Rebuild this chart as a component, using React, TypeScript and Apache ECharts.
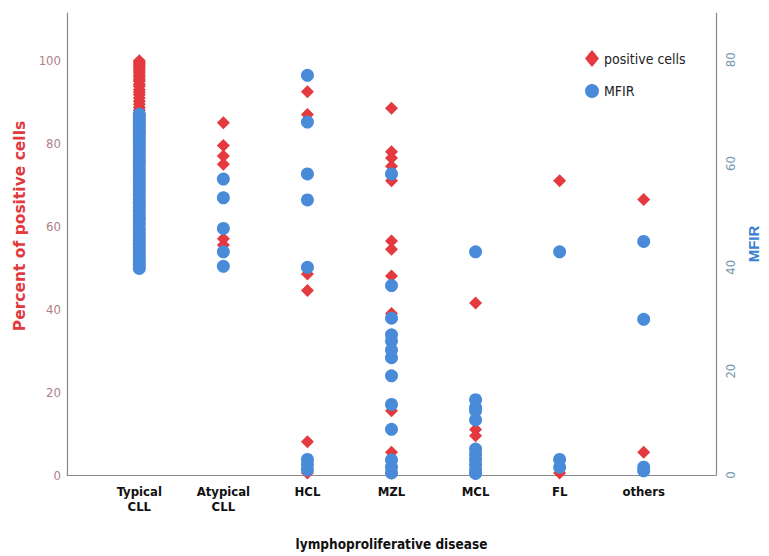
import React, { useEffect, useRef } from "react";
import * as echarts from "echarts";

const categories = ["Typical\nCLL", "Atypical\nCLL", "HCL", "MZL", "MCL", "FL", "others"];

// Percent of positive cells (left axis), one list per category
const posTypicalCLL = [100, 99.6, 99.2, 98.8, 98.4, 98, 97.5, 97, 96.5, 96, 95.4, 95, 94.3, 93.8, 93, 92.4, 91.8, 91, 90.2, 89.5, 88.7, 88, 87, 86, 85, 84, 82.5, 81, 79, 77, 75, 72, 70, 66, 62];
const posAtypicalCLL = [85, 79.5, 77, 75, 57, 55.5];
const posHCL = [92.5, 87, 48.5, 44.5, 8, 0.5];
const posMZL = [88.5, 78, 76.5, 74.5, 71, 56.5, 54.5, 48, 39, 15.5, 5.5, 0.5];
const posMCL = [41.5, 11, 9.5, 0.5];
const posFL = [71, 0.5];
const posOthers = [66.5, 5.5];

// MFIR (right axis), one list per category
const mfirTypicalCLL = [69.5, 69, 68.4, 67.8, 67.2, 66.5, 66, 65.3, 64.7, 64, 63.3, 62.6, 62, 61.3, 60.6, 60, 59.2, 58.5, 57.8, 57, 56.3, 55.5, 54.8, 54, 53.2, 52.4, 51.6, 50.8, 50, 49.2, 48.4, 47.5, 46.7, 46, 45.2, 44.5, 43.8, 43, 42.3, 41.6, 41, 40.4, 39.8];
const mfirAtypicalCLL = [57, 53.4, 47.5, 43, 40.2];
const mfirHCL = [77, 68, 58, 53, 40, 3, 2, 1];
const mfirMZL = [58, 36.5, 30.2, 27, 25.8, 24.1, 22.6, 19.1, 13.6, 8.8, 2.9, 1.5, 0.4];
const mfirMCL = [43, 14.5, 13, 12.4, 10.6, 5, 4, 3, 2, 1, 0.3];
const mfirFL = [43, 3, 1.5];
const mfirOthers = [45, 30, 1.5, 0.8];

const positiveCells = [posTypicalCLL, posAtypicalCLL, posHCL, posMZL, posMCL, posFL, posOthers];
const mfir = [mfirTypicalCLL, mfirAtypicalCLL, mfirHCL, mfirMZL, mfirMCL, mfirFL, mfirOthers];

const leftTicks = [0, 20, 40, 60, 80, 100];
const rightTicks = [0, 20, 40, 60, 80];

const RED = "#e3393f";
const BLUE = "#4a8bd9";
const NARROW = "'Liberation Sans Narrow', 'DejaVu Sans Condensed', 'Arial Narrow', sans-serif";

function toPoints(groups: number[][]) {
  const out: number[][] = [];
  groups.forEach((vals, i) => vals.forEach((v) => out.push([i, v])));
  return out;
}

export default function App() {
  const ref = useRef<HTMLDivElement>(null);
  useEffect(() => {
    document.body.style.margin = "0";
    if (!ref.current) return;
    const chart = echarts.init(ref.current, null, { renderer: "svg" });
    chart.setOption({
      animation: false,
      backgroundColor: "#ffffff",
      grid: { left: 67, right: 45, top: 13, bottom: 77, containLabel: false },
      legend: {
        orient: "vertical",
        left: 580,
        top: 45,
        itemWidth: 14,
        itemHeight: 17,
        itemGap: 17,
        textStyle: { fontFamily: NARROW, fontSize: 14, color: "#222" },
        data: [
          { name: "positive cells", icon: "diamond" },
          { name: "MFIR", icon: "circle" },
        ],
      },
      xAxis: {
        type: "value",
        min: -0.86,
        max: 6.86,
        axisLine: { show: true, onZero: false, lineStyle: { color: "#8a8a8a", width: 1.2 } },
        axisTick: { show: false },
        splitLine: { show: false },
        axisLabel: {
          customValues: [0, 1, 2, 3, 4, 5, 6],
          formatter: (v: number) => categories[Math.round(v)] ?? "",
          fontFamily: NARROW,
          fontWeight: "bold",
          fontSize: 13,
          lineHeight: 15,
          color: "#111",
          margin: 9,
        },
        name: "lymphoproliferative disease",
        nameLocation: "middle",
        nameGap: 62,
        nameTextStyle: { fontFamily: NARROW, fontWeight: "bold", fontSize: 13.5, color: "#111" },
      },
      yAxis: [
        {
          type: "value",
          min: 0,
          max: 111.5,
          interval: 20,
          axisLine: { show: true, onZero: false, lineStyle: { color: "#8a8a8a", width: 1.2 } },
          axisTick: { show: false },
          splitLine: { show: false },
          axisLabel: {
            customValues: leftTicks,
            fontFamily: NARROW,
            fontSize: 13,
            color: "#b07f86",
            margin: 6,
          },
          name: "Percent of positive cells",
          nameLocation: "middle",
          nameRotate: 90,
          nameGap: 33,
          nameTextStyle: {
            fontFamily: "'DejaVu Sans', sans-serif",
            fontWeight: "bold",
            fontSize: 15.5,
            color: "#e03a3e",
            padding: [0, 0, 0, 36],
          },
        },
        {
          type: "value",
          position: "right",
          min: 0,
          max: 89,
          interval: 20,
          axisLine: { show: true, onZero: false, lineStyle: { color: "#8a8a8a", width: 1.2 } },
          axisTick: { show: false },
          splitLine: { show: false },
          axisLabel: {
            customValues: rightTicks,
            rotate: 90,
            fontFamily: NARROW,
            fontSize: 13,
            color: "#7a9aae",
            margin: 8,
          },
          name: "MFIR",
          nameLocation: "middle",
          nameRotate: 90,
          nameGap: 30,
          nameTextStyle: { fontFamily: "'Liberation Sans', Arial, sans-serif", fontWeight: "bold", fontSize: 15, color: "#3a7fd0" },
        },
      ],
      series: [
        {
          name: "positive cells",
          type: "scatter",
          yAxisIndex: 0,
          symbol: "diamond",
          symbolSize: 13,
          itemStyle: { color: RED, opacity: 1 },
          data: toPoints(positiveCells),
        },
        {
          name: "MFIR",
          type: "scatter",
          yAxisIndex: 1,
          symbol: "circle",
          symbolSize: 13,
          itemStyle: { color: BLUE, opacity: 1 },
          data: toPoints(mfir),
        },
      ],
    });
    return () => chart.dispose();
  }, []);
  return <div ref={ref} style={{ width: 769, height: 556 }} />;
}
